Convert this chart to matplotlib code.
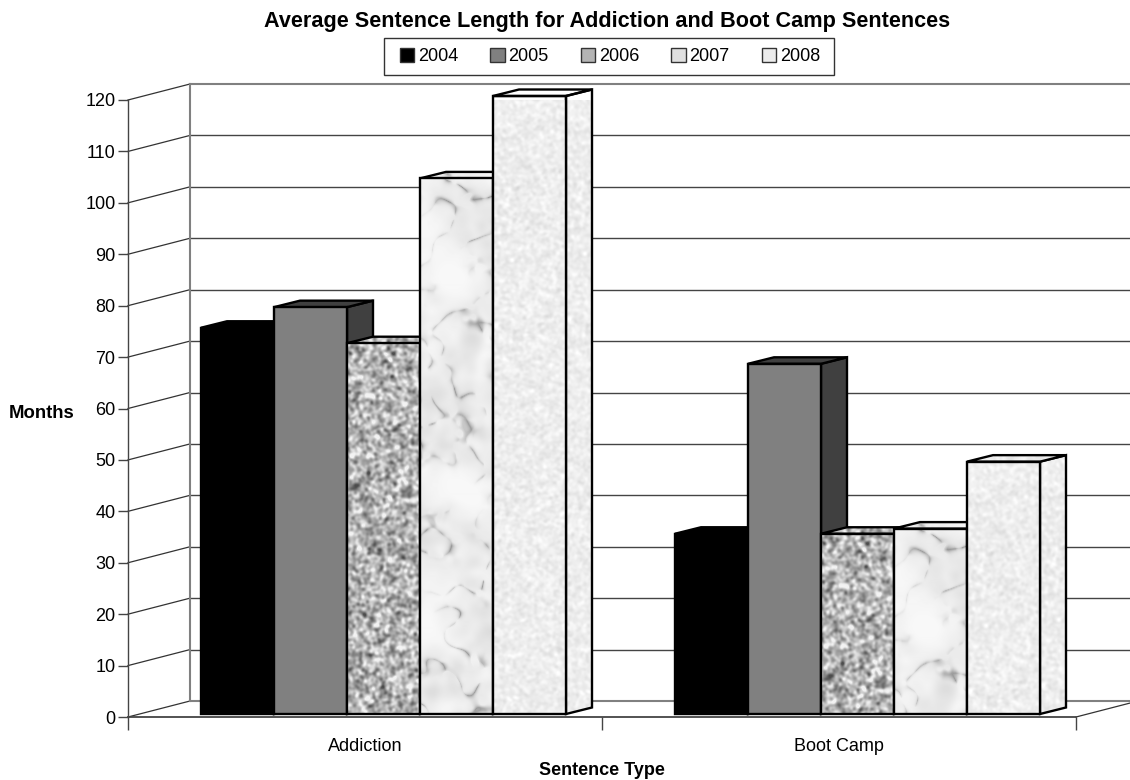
import numpy as np
import matplotlib
matplotlib.use("Agg")
import matplotlib.pyplot as plt
from matplotlib.patches import Patch, Polygon, Rectangle

plt.rcParams["font.family"] = ["Liberation Sans", "DejaVu Sans"]

categories = ["Addiction", "Boot Camp"]
years = ["2004", "2005", "2006", "2007", "2008"]
values_2004 = [75, 35]
values_2005 = [79, 68]
values_2006 = [72, 35]
values_2007 = [104, 36]
values_2008 = [120, 49]
series = [values_2004, values_2005, values_2006, values_2007, values_2008]
y_ticks = list(range(0, 121, 10))

W, H = 1130, 780
LEFT, RIGHT, BOTTOM, TOP = 128, 1076, 717, 100  # plot front plane, pixels
fig = plt.figure(figsize=(W / 100, H / 100), dpi=100)
ax = fig.add_axes([LEFT / W, 1 - BOTTOM / H, (RIGHT - LEFT) / W, (BOTTOM - TOP) / H])

XPX = 2 / (RIGHT - LEFT)
YPX = 120 / (BOTTOM - TOP)
WALL_DX, WALL_DY = 62 * XPX, 16 * YPX
BAR_DX, BAR_DY = 26 * XPX, 6.5 * YPX
BAR_W = 73 * XPX
GROUP_SHIFT, BAR_LIFT = 18.5 * XPX, 3 * YPX
BAR_SCALE = 618 / 617


def noise(h, w, sigma, rng):
    # gaussian blurred noise, scaled to 0..1
    n = rng.standard_normal((h, w))
    fy = np.fft.fftfreq(h)[:, None]
    fx = np.fft.fftfreq(w)[None, :]
    blur = np.exp(-2 * (np.pi * sigma) ** 2 * (fx**2 + fy**2))
    n = np.fft.ifft2(np.fft.fft2(n) * blur).real
    return (n - n.min()) / (n.max() - n.min())


def granite(h, w, rng):
    n = noise(h, w, 1.5, rng)
    return np.clip(0.72 + (n - 0.5) * 1.05, 0.3, 0.95)


def marble(h, w, rng):
    n = noise(h, w, 8, rng)
    mask = np.clip((noise(h, w, 22, rng) - 0.3) * 3, 0, 1)
    broken = np.clip((noise(h, w, 3, rng) - 0.35) * 4, 0, 1)
    veins = np.exp(-np.abs(n - 0.5) * 28) * mask * broken
    cloud = noise(h, w, 5, rng)
    return np.clip(0.97 - 0.32 * veins - 0.12 * cloud * mask, 0.6, 1.0)


def stucco(h, w, rng):
    n = noise(h, w, 1.4, rng)
    return np.clip(0.93 + (n - 0.5) * 0.17, 0.8, 1.0)


rng = np.random.default_rng(4)
textures = [None, None, granite(660, 110, rng), marble(660, 110, rng), stucco(660, 110, rng)]
front_colors = ["black", "#808080", None, None, None]
side_colors = ["black", "#404040", None, None, None]
legend_colors = ["black", "#808080", "#b4b4b4", "#e0e0e0", "#ececec"]


def face(points, color, tex, z, edge):
    pts = np.array(points)
    if tex is None:
        ax.add_patch(Polygon(pts, closed=True, facecolor=color, edgecolor=edge, lw=1.7,
                             joinstyle="miter", zorder=z, clip_on=False))
        return
    x0, y0 = pts.min(axis=0)
    x1, y1 = pts.max(axis=0)
    # crop rather than stretch, so short bars keep the same grain
    rows = max(2, int((y1 - y0) / YPX))
    cols = max(2, int((x1 - x0) / XPX))
    im = ax.imshow(tex[:rows, :cols], cmap="gray", vmin=0, vmax=1, aspect="auto", zorder=z,
                   extent=[x0, x1, y0, y1], interpolation="bilinear", clip_on=True)
    im.set_clip_path(Polygon(pts, closed=True, transform=ax.transData))
    ax.add_patch(Polygon(pts, closed=True, facecolor="none", edgecolor=edge, lw=1.7,
                         joinstyle="miter", zorder=z + 0.1, clip_on=False))


# walls and gridlines
for v in y_ticks:
    y0 = v + WALL_DY
    ax.plot([0, WALL_DX], [v, y0], color="#333333", lw=0.9, clip_on=False, zorder=1)
    if v == 0 or v == 120:
        ax.plot([WALL_DX, 2 + WALL_DX], [y0, y0], color="#808080", lw=1.5, clip_on=False, zorder=1)
    else:
        ax.plot([WALL_DX, 2 + WALL_DX], [y0, y0], color="#444444", lw=1.0, clip_on=False, zorder=1)
ax.plot([WALL_DX, WALL_DX], [WALL_DY, 120 + WALL_DY], color="#808080", lw=1.5, clip_on=False, zorder=1)
ax.plot([2, 2 + WALL_DX], [0, WALL_DY], color="#333333", lw=0.9, clip_on=False, zorder=1)

# bars, left to right so each front covers the side before it
for c in range(len(categories)):
    start = c + 0.5 - 2.5 * BAR_W + GROUP_SHIFT
    for s, vals in enumerate(series):
        x0 = start + s * BAR_W
        x1 = x0 + BAR_W
        b = BAR_LIFT
        t = vals[c] * BAR_SCALE + BAR_LIFT
        z = 3 + c * 10 + s
        tex = textures[s]
        side = [(x1, b), (x1 + BAR_DX, b + BAR_DY), (x1 + BAR_DX, t + BAR_DY), (x1, t)]
        top = [(x0, t), (x0 + BAR_DX, t + BAR_DY), (x1 + BAR_DX, t + BAR_DY), (x1, t)]
        front = [(x0, b), (x1, b), (x1, t), (x0, t)]
        face(side, side_colors[s], tex, z, "black")
        face(top, side_colors[s], tex, z + 0.2, "black")
        face(front, front_colors[s], tex, z + 0.4, "black")

ax.set_xlim(0, 2)
ax.set_ylim(0, 120)
ax.patch.set_alpha(0)
for name in ["top", "right"]:
    ax.spines[name].set_visible(False)
ax.spines["left"].set_color("#444444")
ax.spines["bottom"].set_color("#444444")
ax.spines["bottom"].set_linewidth(1.3)
ax.spines["left"].set_linewidth(1.0)

ax.set_yticks(y_ticks)
ax.tick_params(axis="y", length=7, width=1, color="#444444", labelsize=13, pad=2, labelcolor="black")
ax.set_xticks([0, 1, 2])
ax.set_xticklabels([])
ax.set_xticks([0.5, 1.5], categories, minor=True)
ax.tick_params(axis="x", which="major", length=9, width=1, color="#444444")
ax.tick_params(axis="x", which="minor", length=0, labelsize=13, pad=15)
ax.set_xlabel("Sentence Type", fontsize=13, fontweight="bold", labelpad=5)

fig.text(607 / W, 1 - 21 / H, "Average Sentence Length for Addiction and Boot Camp Sentences",
         ha="center", va="center", fontsize=15.6, fontweight="bold")
fig.text(9 / W, 1 - 413 / H, "Months", ha="left", va="center", fontsize=13.3, fontweight="bold")

fig.add_artist(Rectangle((384 / W, 1 - 75 / H), 450 / W, 37 / H, transform=fig.transFigure,
                         facecolor="white", edgecolor="#333333", lw=1, zorder=5))
handles = [Patch(facecolor=col, edgecolor="#333333", lw=1, label=yr)
           for col, yr in zip(legend_colors, years)]
leg = fig.legend(handles=handles, ncol=5, loc="center", bbox_to_anchor=(610 / W, 1 - 56.5 / H),
                 fontsize=13, frameon=False, handlelength=0.8, handleheight=0.8,
                 handletextpad=0.2, columnspacing=1.78, borderpad=0.3)
leg.set_zorder(6)

fig.savefig("out.png", dpi=100)
